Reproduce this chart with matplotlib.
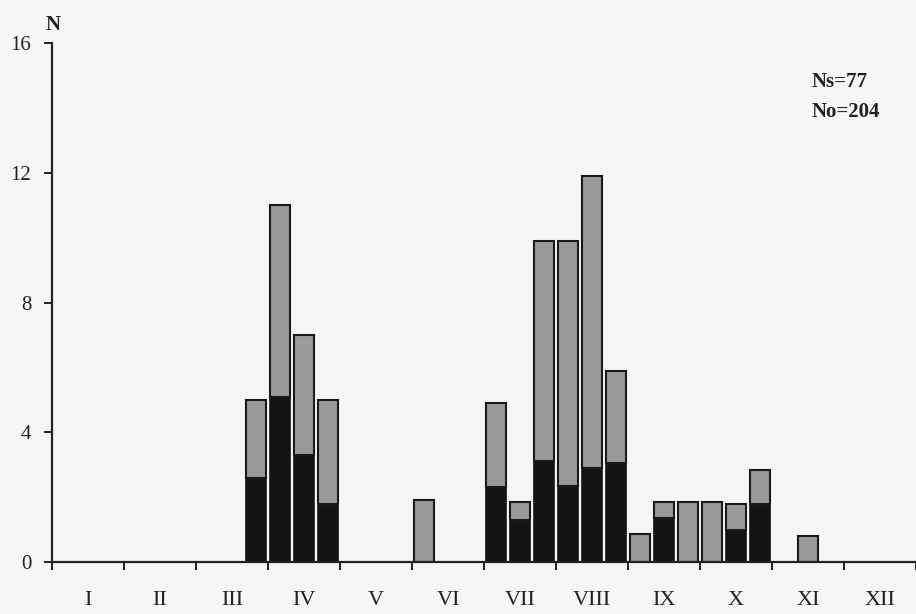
import matplotlib
matplotlib.use("Agg")
import matplotlib.pyplot as plt
import numpy as np

months = ["I", "II", "III", "IV", "V", "VI", "VII", "VIII", "IX", "X", "XI", "XII"]
# decade index (0 = 1st decade of January ... 35 = 3rd decade of December)
decades = [8, 9, 10, 11, 15, 18, 19, 20, 21, 22, 23, 24, 25, 26, 27, 28, 29, 31]
black_vals = [2.6, 5.1, 3.3, 1.8, 0.0, 2.3, 1.3, 3.1, 2.35, 2.9, 3.05, 0.0, 1.35, 0.0, 0.0, 1.0, 1.8, 0.0]
total_vals = [5.0, 11.0, 7.0, 5.0, 1.9, 4.9, 1.85, 9.9, 9.9, 11.9, 5.9, 0.85, 1.85, 1.85, 1.85, 1.8, 2.85, 0.8]
y_ticks = [0, 4, 8, 12, 16]
annotation = ["Ns=77", "No=204"]

grey_vals = [t - b for t, b in zip(total_vals, black_vals)]

plt.rcParams['font.family'] = ['Liberation Serif', 'DejaVu Serif']

bg = "#f6f6f4"
fig = plt.figure(figsize=(9.16, 6.14), dpi=100, facecolor=bg)
ax = fig.add_axes([0.0568, 0.0847, 0.9432, 0.845])
ax.set_facecolor(bg)

x = np.array(decades) + 0.5
ax.bar(x, black_vals, width=0.84, color="#141414", edgecolor="#141414", linewidth=1.2)
ax.bar(x, grey_vals, bottom=black_vals, width=0.84, color="#9a9a9a", edgecolor="#1a1a1a", linewidth=1.5)

ax.set_xlim(0, 36)
ax.set_ylim(0, 16)
for s in ["top", "right"]:
    ax.spines[s].set_visible(False)
ax.spines["left"].set_linewidth(1.6)
ax.spines["bottom"].set_linewidth(1.6)
ax.spines["left"].set_color("#222222")
ax.spines["bottom"].set_color("#222222")

ax.set_yticks(y_ticks)
ax.set_yticklabels([str(v) for v in y_ticks], fontsize=15)
ax.tick_params(axis="y", direction="out", length=6, width=1.4, pad=9, colors="#222222")

ax.set_xticks(np.arange(0, 37, 3))
ax.set_xticklabels([])
ax.tick_params(axis="x", which="major", direction="out", length=6, width=1.4, colors="#222222")
ax.set_xticks(np.arange(1.5, 36, 3), minor=True)
ax.set_xticklabels(months, minor=True, fontsize=16)
ax.tick_params(axis="x", which="minor", length=0, pad=21, labelcolor="#222222")

ax.text(0.05, 16.55, "N", fontsize=15, fontweight="bold", ha="center", va="center", color="#222222")
ax.text(31.65, 14.8, annotation[0], fontsize=15, fontweight="bold", ha="left", va="center", color="#222222")
ax.text(31.65, 13.87, annotation[1], fontsize=15, fontweight="bold", ha="left", va="center", color="#222222")

fig.savefig("out.png", dpi=100, facecolor=bg)
